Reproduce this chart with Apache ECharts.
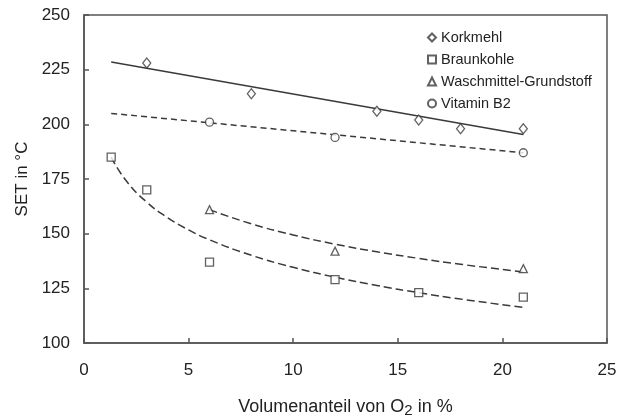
<!DOCTYPE html>
<html><head><meta charset="utf-8">
<script src="https://cdn.jsdelivr.net/npm/echarts@6/dist/echarts.min.js"></script>
<style>html,body{margin:0;padding:0;background:#fff}#c{width:629px;height:416px}</style>
</head><body><div id="c"></div>
<script>
// Measured points
const korkmehlPts = [[3, 228], [8, 214], [14, 206], [16, 202], [18, 198], [21, 198]];
const braunkohlePts = [[1.3, 185], [3, 170], [6, 137], [12, 129], [16, 123], [21, 121]];
const waschmittelPts = [[6, 161], [12, 142], [21, 134]];
const vitaminPts = [[6, 201], [12, 194], [21, 187]];
// Trend lines
const korkmehlFit = [[1.3, 228.5], [21, 195.3]];
const vitaminFit = [[1.3, 205], [21, 187]];
const braunkohleFit = [[1.3, 185], [2, 174.4], [3, 164.4], [4, 157.3], [5, 151.7], [6, 147.2], [8, 140.1], [10, 134.6], [12, 130.1], [14, 126.3], [16, 123], [18, 120.1], [21, 116.3]];
const waschmittelFit = [[6, 161], [8, 154.5], [10, 149.4], [12, 145.2], [14, 141.7], [16, 138.7], [18, 136], [21, 132.5]];
const seriesNames = ['Korkmehl', 'Braunkohle', 'Waschmittel-Grundstoff', 'Vitamin B2'];
const xTicks = [0, 5, 10, 15, 20, 25];
const yTicks = [100, 125, 150, 175, 200, 225, 250];

const ink = '#3a3a3a';
const font = 'Liberation Sans, Arial, sans-serif';
const chart = echarts.init(document.getElementById('c'), null, {renderer: 'canvas'});

function pts(name, data, symbol, size) {
  return {name, type: 'scatter', data, symbol, symbolSize: size, z: 5,
    itemStyle: {color: '#fff', borderColor: ink, borderWidth: 1.3}};
}
function fit(data, type, smooth) {
  return {type: 'line', data, showSymbol: false, smooth: smooth, silent: true, z: 3,
    lineStyle: {color: ink, width: 1.5, type: type}};
}

chart.setOption({
  animation: false,
  textStyle: {fontFamily: font},
  grid: {left: 84, right: 22, top: 15, bottom: 73, show: true, borderColor: '#555', borderWidth: 1.5,
    containLabel: false, outerBoundsMode: 'none'},
  legend: {
    data: seriesNames, orient: 'vertical', left: 427, top: 30,
    itemWidth: 8, itemHeight: 8, itemGap: 7, padding: 0,
    textStyle: {fontSize: 14.5, color: '#222', lineHeight: 15, fontFamily: font}
  },
  xAxis: {
    type: 'value', min: xTicks[0], max: xTicks[xTicks.length - 1], interval: 5,
    name: 'Volumenanteil von O{sub|2} in %', nameLocation: 'middle', nameGap: 53,
    nameTextStyle: {fontSize: 18, color: '#222', fontFamily: font,
      rich: {sub: {fontSize: 15, color: '#222', fontFamily: font, padding: [7, 0, 0, 0]}}},
    axisLine: {lineStyle: {color: '#555', width: 1.5}},
    axisTick: {inside: true, length: 5, lineStyle: {color: '#555', width: 1.5}},
    axisLabel: {fontSize: 17, color: '#222', margin: 19},
    splitLine: {show: false}
  },
  yAxis: {
    type: 'value', min: yTicks[0], max: yTicks[yTicks.length - 1], interval: 25,
    name: 'SET in °C', nameLocation: 'middle', nameGap: 53,
    nameTextStyle: {fontSize: 17, color: '#222', fontFamily: font},
    axisLine: {lineStyle: {color: '#555', width: 1.5}},
    axisTick: {inside: true, length: 5, lineStyle: {color: '#555', width: 1.5}},
    axisLabel: {fontSize: 17, color: '#222', margin: 14},
    splitLine: {show: false}
  },
  series: [
    fit(korkmehlFit, 'solid', false),
    fit(vitaminFit, [6, 4], false),
    fit(braunkohleFit, [8, 4], true),
    fit(waschmittelFit, [8, 4], true),
    pts(seriesNames[0], korkmehlPts, 'diamond', [8, 10]),
    pts(seriesNames[1], braunkohlePts, 'rect', 8),
    pts(seriesNames[2], waschmittelPts, 'triangle', 8),
    pts(seriesNames[3], vitaminPts, 'circle', 8)
  ]
});
</script></body></html>
